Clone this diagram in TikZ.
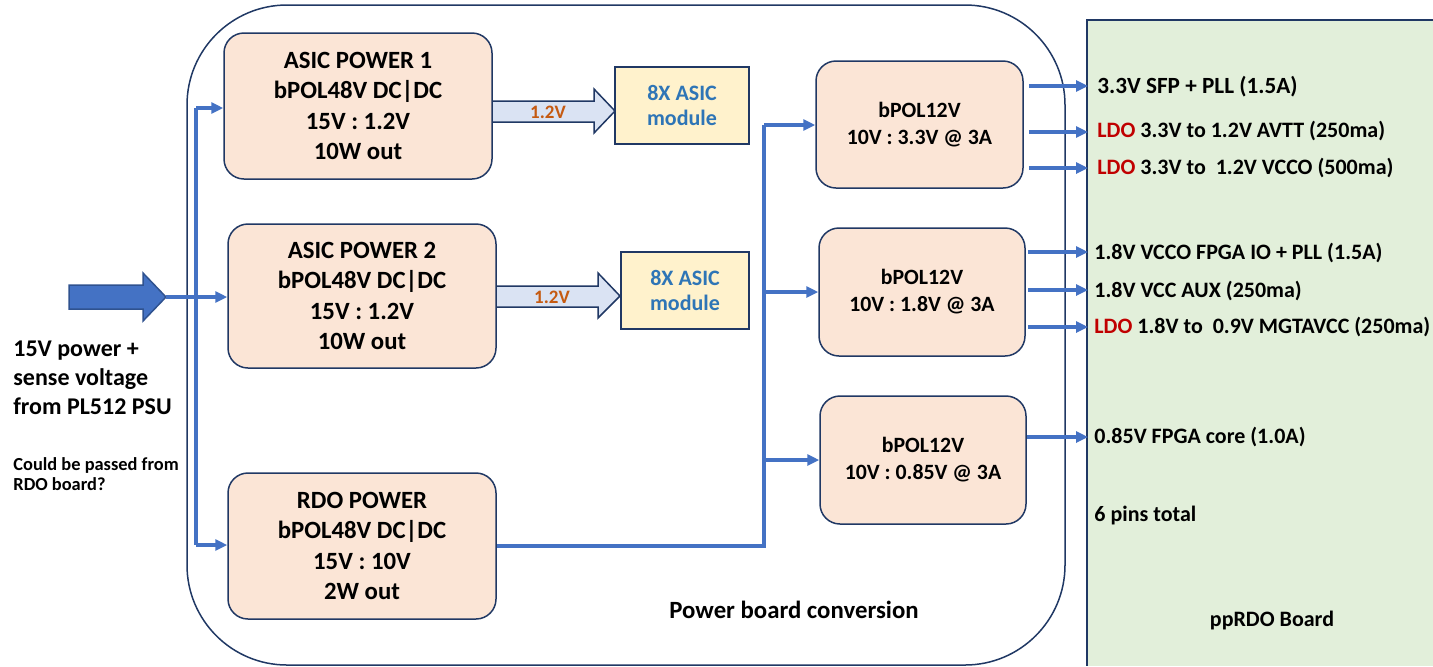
\documentclass[tikz,border=0pt]{standalone}
\usepackage{fontspec}
\setmainfont{Carlito}
\usetikzlibrary{arrows.meta}
\definecolor{navy}{HTML}{203864}
\definecolor{peach}{HTML}{FBE5D6}
\definecolor{modfill}{HTML}{FFF2CC}
\definecolor{modtext}{HTML}{2E75B6}
\definecolor{orangetxt}{HTML}{C55A11}
\definecolor{ldored}{HTML}{C00000}
\definecolor{lineblue}{HTML}{4472C4}
\definecolor{darkblue}{HTML}{2F528F}
\definecolor{lightarrow}{HTML}{DAE3F3}
\definecolor{boardgreen}{HTML}{E2EFDA}
\tikzset{
  pbox/.style={draw=navy, line width=0.75pt, fill=peach, rounded corners=10pt, align=center, inner sep=0pt,
    font=\bfseries\fontsize{12.4}{15.2}\selectfont},
  bbox/.style={draw=navy, line width=0.75pt, fill=peach, rounded corners=10pt, align=center, inner sep=0pt,
    font=\bfseries\fontsize{10.9}{13.5}\selectfont},
  mbox/.style={draw=navy, line width=0.75pt, fill=modfill, align=center, inner sep=0pt, text=modtext,
    font=\bfseries\fontsize{11}{12.5}\selectfont},
  wire/.style={draw=lineblue, line width=1.6pt},
  conn/.style={wire, -{Triangle[length=6pt,width=5.5pt]}},
  blockarrow/.style={draw=navy, line width=0.75pt, fill=lightarrow},
  volt/.style={text=orangetxt, font=\bfseries\fontsize{9.5}{10}\selectfont},
  outtxt/.style={anchor=west, inner sep=0pt, font=\bfseries\fontsize{11}{12}\selectfont},
  plain/.style={inner sep=0pt, font=\bfseries\fontsize{12}{14.5}\selectfont}
}
\begin{document}
\begin{tikzpicture}[x=0.5pt,y=-0.5pt]
\useasboundingbox (0,0) rectangle (1433,666);

% board outline
\node[draw=navy, line width=0.75pt, rounded corners=50pt, minimum width=439pt, minimum height=330pt, inner sep=0pt] (board) at (626,335) {};

% ppRDO board
\fill[boardgreen] (1087,20) rectangle (1433,666);
\draw[navy, line width=0.75pt] (1433,20) -- (1087,20) -- (1087,666);

% input arrow
\draw[draw=darkblue, line width=0.75pt, fill=lineblue] (69,285) -- (143,285) -- (143,273) -- (166,297) -- (143,321) -- (143,309) -- (69,309) -- cycle;
\coordinate (intip) at (166,297);

% block arrows
\draw[blockarrow] (492,101) -- (594,101) -- (594,89) -- (615,111) -- (594,133) -- (594,122) -- (492,122) -- cycle;
\node[volt] (v1) at (548,112) {1.2V};
\draw[blockarrow] (496,286) -- (598,286) -- (598,273) -- (620,296) -- (598,318) -- (598,307) -- (496,307) -- cycle;
\node[volt] (v2) at (552,297) {1.2V};

% boxes
\node[pbox, minimum width=134pt, minimum height=73pt] (asic1) at (358,106) {ASIC POWER 1\\bPOL48V DC|DC\\15V : 1.2V\\10W out};
\node[pbox, minimum width=134pt, minimum height=72pt] (asic2) at (362,296) {ASIC POWER 2\\bPOL48V DC|DC\\15V : 1.2V\\10W out};
\node[pbox, minimum width=134pt, minimum height=73pt] (rdo) at (362,546) {RDO POWER\\bPOL48V DC|DC\\15V : 10V\\2W out};

\node[mbox, minimum width=67pt, minimum height=38.5pt] (mod1) at (682,105.5) {8X ASIC\\module};
\node[mbox, minimum width=64pt, minimum height=38.5pt] (mod2) at (685,290.5) {8X ASIC\\module};

\node[bbox, minimum width=103.5pt, minimum height=63.5pt] (bpol1) at (919.5,124.5) {bPOL12V\\10V : 3.3V @ 3A};
\node[bbox, minimum width=103pt, minimum height=64pt] (bpol2) at (922,292) {bPOL12V\\10V : 1.8V @ 3A};
\node[bbox, minimum width=103pt, minimum height=64pt] (bpol3) at (923,460) {bPOL12V\\10V : 0.85V @ 3A};

% input distribution
\coordinate (vtop) at (196,108);
\coordinate (vbot) at (196,545);
\draw[wire] (vtop) -- (vbot);
\draw[conn] (intip) -- (intip -| asic2.west);
\draw[conn] (vtop) -- (vtop -| asic1.west);
\draw[conn] (vbot) -- (vbot -| rdo.west);

% RDO to bPOL12V
\coordinate (bt) at (764,125);
\draw[wire] (rdo.east) -| (bt);
\draw[conn] (bt) -- (bt -| bpol1.west);
\draw[conn] (bt |- bpol2.west) -- (bpol2.west);
\draw[conn] (bt |- bpol3.west) -- (bpol3.west);

% outputs
\coordinate (o1) at (1088,86);
\coordinate (o2) at (1088,132);
\coordinate (o3) at (1088,168);
\coordinate (o4) at (1088,252);
\coordinate (o5) at (1088,290);
\coordinate (o6) at (1088,327);
\coordinate (o7) at (1088,437);
\draw[conn] ([xshift=2.5pt]bpol1.east |- o1) -- (o1);
\draw[conn] ([xshift=2.5pt]bpol1.east |- o2) -- (o2);
\draw[conn] ([xshift=2.5pt]bpol1.east |- o3) -- (o3);
\draw[conn] ([xshift=1pt]bpol2.east |- o4) -- (o4);
\draw[conn] ([xshift=1pt]bpol2.east |- o5) -- (o5);
\draw[conn] ([xshift=1pt]bpol2.east |- o6) -- (o6);
\draw[conn] (bpol3.east |- o7) -- (o7);

\node[outtxt, font=\bfseries\fontsize{11.6}{12}\selectfont] (t1) at (1097,87) {3.3V SFP + PLL (1.5A)};
\node[outtxt] (t2) at (1097,131) {\textcolor{ldored}{LDO} 3.3V to 1.2V AVTT (250ma)};
\node[outtxt] (t3) at (1097,168) {\textcolor{ldored}{LDO} 3.3V to\ \ 1.2V VCCO (500ma)};
\node[outtxt] (t4) at (1094,253) {1.8V VCCO FPGA IO + PLL (1.5A)};
\node[outtxt] (t5) at (1094,291) {1.8V VCC AUX (250ma)};
\node[outtxt] (t6) at (1094,327) {\textcolor{ldored}{LDO} 1.8V to\ \ 0.9V MGTAVCC (250ma)};
\node[outtxt] (t7) at (1094,437) {0.85V FPGA core (1.0A)};
\node[outtxt] (t8) at (1094,515) {6 pins total};
\node[plain, font=\bfseries\fontsize{11}{12}\selectfont] (t9) at (1272,620) {ppRDO Board};

\node[plain, font=\bfseries\fontsize{12.4}{14}\selectfont] (pbc) at (794,610) {Power board conversion};
\node[plain, anchor=west, align=left] (src) at (13,378) {15V power +\\sense voltage\\from PL512 PSU};
\node[inner sep=0pt, anchor=west, align=left, font=\bfseries\fontsize{9.2}{10}\selectfont] (note) at (13,474) {Could be passed from\\RDO board?};
\end{tikzpicture}
\end{document}
